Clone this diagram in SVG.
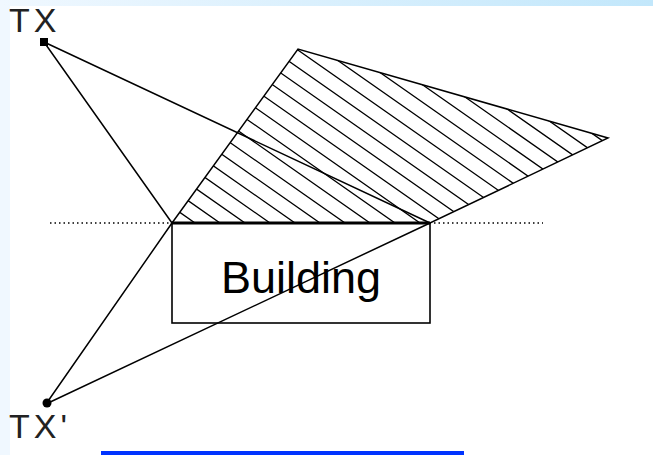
<svg xmlns="http://www.w3.org/2000/svg" width="653" height="455" viewBox="0 0 653 455">
<defs>
<linearGradient id="topband" x1="0" y1="0" x2="1" y2="0">
<stop offset="0" stop-color="#f0f8ff"/>
<stop offset="1" stop-color="#c2e7fb"/>
</linearGradient>
<clipPath id="shadowClip">
<polygon points="172,223 298,49 608,138 430,223"/>
</clipPath>
<style>
.ln{stroke:#000;stroke-width:1.5;fill:none;stroke-linecap:round}
.hatch{stroke:#000;stroke-width:1.3;fill:none}
.dot{stroke:#000;stroke-width:1.5;stroke-dasharray:1.5,3;fill:none}
.lbl{font-family:"Liberation Sans",Arial,sans-serif;fill:#222}
</style>
</defs>
<rect x="0" y="0" width="653" height="455" fill="#ffffff"/>
<rect x="0" y="0" width="10" height="455" fill="#f0f8ff"/>
<rect x="0" y="0" width="653" height="6" fill="url(#topband)"/>
<rect x="101" y="451" width="363" height="4" fill="#0033ff"/>

<g id="shadow">
<g clip-path="url(#shadowClip)">
<path class="hatch" d="M-230,-57L290,307 M-205,-57L315,307 M-180,-57L340,307 M-155,-57L365,307 M-130,-57L390,307 M-105,-57L415,307 M-80,-57L440,307 M-55,-57L465,307 M-30,-57L490,307 M-5,-57L515,307 M20,-57L540,307 M45,-57L565,307 M70,-57L590,307 M95,-57L615,307 M120,-57L640,307 M145,-57L665,307 M170,-57L690,307 M195,-57L715,307 M220,-57L740,307 M245,-57L765,307 M270,-57L790,307 M295,-57L815,307 M320,-57L840,307"/>
</g>
<polygon class="ln" points="172,223 298,49 608,138 430,223"/>
</g>

<g id="connectors">
<line class="ln" x1="44" y1="42" x2="172" y2="223"/>
<line class="ln" x1="44" y1="42" x2="430" y2="223"/>
<line class="ln" x1="46" y1="404" x2="172" y2="223"/>
<line class="ln" x1="46" y1="404" x2="430" y2="223"/>
<line class="dot" x1="50" y1="223" x2="170" y2="223"/>
<line class="dot" x1="434" y1="223" x2="543" y2="223"/>
</g>

<g id="building">
<rect x="172" y="223" width="258" height="100" fill="none" stroke="#000" stroke-width="1.6"/>
<line x1="172" y1="223" x2="430" y2="223" stroke="#000" stroke-width="3"/>
<text class="lbl" x="301" y="293" font-size="45" text-anchor="middle" style="fill:#000">Building</text>
</g>

<g id="tx">
<rect x="40" y="38" width="8" height="8" fill="#000"/>
<text class="lbl" x="9" y="32" font-size="34" letter-spacing="4">TX</text>
</g>

<g id="tx-prime">
<circle cx="47" cy="403" r="4.5" fill="#000"/>
<text class="lbl" x="9" y="438" font-size="34" letter-spacing="4">TX'</text>
</g>
</svg>
